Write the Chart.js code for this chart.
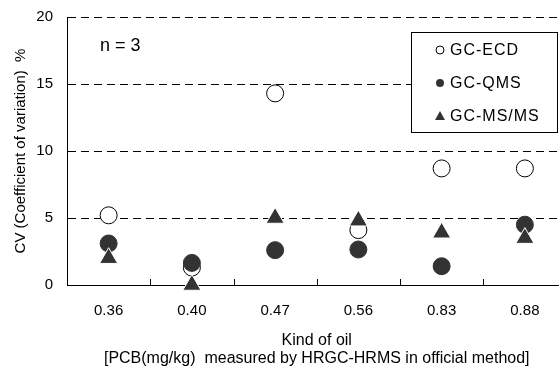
<!DOCTYPE html>
<html>
<head>
<meta charset="utf-8">
<script src="https://cdn.jsdelivr.net/npm/chart.js@4.4.1/dist/chart.umd.min.js"></script>
<style>
  html, body { margin: 0; padding: 0; background: #fff; overflow: hidden; }
  #wrap { width: 578px; height: 367px; }
</style>
</head>
<body>
<div id="wrap"><canvas id="cvChart"></canvas></div>
<script>
const categories = ['0.36', '0.40', '0.47', '0.56', '0.83', '0.88'];
const gcEcd = [5.2, 1.3, 14.3, 4.1, 8.7, 8.7];
const gcQms = [3.1, 1.65, 2.6, 2.65, 1.4, 4.5];
const gcMsMs = [2.0, 0.0, 5.0, 4.8, 3.9, 3.5];
const yTicks = [0, 5, 10, 15, 20];

const FONT = "'Liberation Sans', Arial, sans-serif";
const DARK = '#333333';

// small tick marks pointing up into the plot, between categories
const innerTicksPlugin = {
    id: 'innerTicks',
    afterDraw: function(chart) {
        const ctx = chart.ctx;
        const x = chart.scales.x;
        const area = chart.chartArea;
        ctx.save();
        ctx.strokeStyle = '#000';
        ctx.lineWidth = 1;
        for (let i = 1; i < categories.length; i++) {
            const px = Math.round((x.getPixelForValue(i - 1) + x.getPixelForValue(i)) / 2) + 0.5;
            ctx.beginPath();
            ctx.moveTo(px, area.bottom);
            ctx.lineTo(px, area.bottom - 6);
            ctx.stroke();
        }
        ctx.restore();
    }
};

// boxed legend inside the plot + "n = 3" note
const boxLegendPlugin = {
    id: 'boxLegend',
    afterDraw: function(chart) {
        const ctx = chart.ctx;
        ctx.save();
        // n = 3
        ctx.fillStyle = '#000';
        ctx.font = '18px ' + FONT;
        ctx.textBaseline = 'middle';
        ctx.textAlign = 'left';
        ctx.fillText('n = 3', 100, 46);

        const bx = 411.5, by = 32.5, bw = 146, bh = 100;
        ctx.fillStyle = '#fff';
        ctx.fillRect(bx, by, bw, bh);
        ctx.strokeStyle = '#000';
        ctx.lineWidth = 1;
        ctx.strokeRect(bx, by, bw, bh);

        ctx.font = '16px ' + FONT;
        ctx.letterSpacing = '1px';
        chart.data.datasets.forEach((ds, i) => {
            const cy = 50 + i * 33;
            const mx = 440;
            ctx.beginPath();
            if (ds.pointStyle === 'triangle') {
                ctx.fillStyle = DARK;
                ctx.moveTo(mx, cy - 5);
                ctx.lineTo(mx + 5, cy + 4);
                ctx.lineTo(mx - 5, cy + 4);
                ctx.closePath();
                ctx.fill();
            } else if (ds.pointBackgroundColor === '#ffffff') {
                ctx.arc(mx, cy, 4, 0, Math.PI * 2);
                ctx.strokeStyle = '#000';
                ctx.stroke();
            } else {
                ctx.arc(mx, cy, 4, 0, Math.PI * 2);
                ctx.fillStyle = DARK;
                ctx.fill();
            }
            ctx.fillStyle = '#000';
            ctx.fillText(ds.label, 450, cy + 1);
        });
        ctx.restore();
    }
};

const ctx = document.getElementById('cvChart').getContext('2d');
const cvChart = new Chart(ctx, {
    type: 'line',
    data: {
        labels: categories,
        datasets: [{
            label: 'GC-ECD',
            data: gcEcd,
            showLine: false,
            pointStyle: 'circle',
            pointRadius: 8.5,
            pointBackgroundColor: '#ffffff',
            pointBorderColor: '#000000',
            pointBorderWidth: 1,
            order: 3,
            clip: false
        }, {
            label: 'GC-QMS',
            data: gcQms,
            showLine: false,
            pointStyle: 'circle',
            pointRadius: 8.5,
            pointBackgroundColor: DARK,
            pointBorderColor: DARK,
            pointBorderWidth: 1,
            order: 2,
            clip: false
        }, {
            label: 'GC-MS/MS',
            data: gcMsMs,
            showLine: false,
            pointStyle: 'triangle',
            pointRadius: 10.5,
            pointBackgroundColor: DARK,
            pointBorderColor: '#ffffff',
            pointBorderWidth: 1,
            order: 1,
            clip: false
        }]
    },
    options: {
        responsive: true,
        maintainAspectRatio: false,
        animation: false,
        layout: { padding: { top: 17, right: 2, left: 0, bottom: 0 } },
        plugins: {
            legend: { display: false },
            tooltip: { enabled: false }
        },
        scales: {
            x: {
                offset: true,
                afterFit: function(scale) {
                    scale.height = 82;
                    scale.paddingLeft = 0;
                    scale.paddingRight = 0;
                },
                grid: { display: false, drawTicks: false },
                border: { display: true, color: '#000', width: 1 },
                ticks: {
                    color: '#000',
                    padding: 17,
                    font: { family: FONT, size: 15 }
                },
                title: {
                    display: true,
                    text: ['Kind of oil', '[PCB(mg/kg)  measured by HRGC-HRMS in official method]'],
                    color: '#000',
                    padding: { top: 15, bottom: 0 },
                    font: { family: FONT, size: 16, lineHeight: 1.1 }
                }
            },
            y: {
                min: 0,
                max: 20,
                afterFit: function(scale) {
                    scale.width = 67;
                    scale.paddingTop = 0;
                    scale.paddingBottom = 0;
                },
                afterBuildTicks: function(scale) {
                    scale.ticks = yTicks.map(v => ({ value: v }));
                },
                grid: {
                    drawTicks: false,
                    color: (c) => c.tick && c.tick.value === 0 ? 'rgba(0,0,0,0)' : '#000',
                    lineWidth: 1
                },
                border: { display: true, color: '#000', width: 1, dash: [8, 5] },
                ticks: {
                    color: '#000',
                    padding: 14,
                    font: { family: FONT, size: 15 }
                },
                title: {
                    display: true,
                    text: 'CV (Coefficient of variation)  %',
                    color: '#000',
                    padding: { top: 12, bottom: 0 },
                    font: { family: FONT, size: 15 }
                }
            }
        }
    },
    plugins: [innerTicksPlugin, boxLegendPlugin]
});
</script>
</body>
</html>
